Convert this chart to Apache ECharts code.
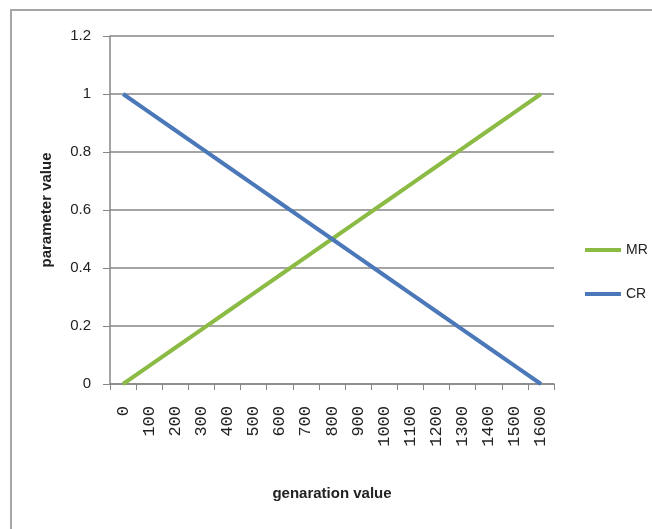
<!DOCTYPE html>
<html><head><meta charset="utf-8">
<script src="https://cdn.jsdelivr.net/npm/echarts@6/dist/echarts.min.js"></script>
<style>html,body{margin:0;padding:0;background:#fff}#c{width:652px;height:529px}</style>
</head><body><div id="c"></div>
<script>
const categories = ['0','100','200','300','400','500','600','700','800','900','1000','1100','1200','1300','1400','1500','1600'];
const mrValues = [0,0.0625,0.125,0.1875,0.25,0.3125,0.375,0.4375,0.5,0.5625,0.625,0.6875,0.75,0.8125,0.875,0.9375,1];
const crValues = [1,0.9375,0.875,0.8125,0.75,0.6875,0.625,0.5625,0.5,0.4375,0.375,0.3125,0.25,0.1875,0.125,0.0625,0];
const yTicks = [0,0.2,0.4,0.6,0.8,1,1.2];

const chart = echarts.init(document.getElementById('c'));
const font = 'Liberation Sans, Arial, sans-serif';
chart.setOption({
  animation:false,
  graphic:[{type:'rect',shape:{x:11,y:10,width:700,height:600},style:{fill:'none',stroke:'#a6a6a6',lineWidth:2},silent:true}],
  grid:{left:110,right:98,top:36,bottom:145},
  legend:{orient:'vertical',left:580,top:238,itemGap:30,itemWidth:36,itemHeight:4,icon:'rect',
    textStyle:{fontFamily:font,fontSize:14,color:'#222'},data:['MR','CR']},
  xAxis:{type:'category',data:categories,boundaryGap:true,
    axisLine:{lineStyle:{color:'#868686',width:1.5}},
    axisTick:{show:true,length:6,alignWithLabel:false,lineStyle:{color:'#868686'}},
    axisLabel:{rotate:90,interval:0,margin:22,fontFamily:'Liberation Mono, DejaVu Sans Mono, monospace',fontSize:17,color:'#222'},
    name:'genaration value',nameLocation:'middle',nameGap:102,
    nameTextStyle:{fontFamily:font,fontSize:15,fontWeight:'bold',color:'#222'}},
  yAxis:{type:'value',min:0,max:1.2,interval:0.2,
    axisLine:{show:true,lineStyle:{color:'#868686',width:1.5}},
    axisTick:{show:true,length:7,lineStyle:{color:'#868686'}},
    splitLine:{lineStyle:{color:'#868686',width:1.5}},
    axisLabel:{margin:19,fontFamily:font,fontSize:15,color:'#222',
      formatter:v=>{const t=yTicks.find(x=>Math.abs(x-v)<1e-9);return String(t!==undefined?t:v);}},
    name:'parameter value',nameLocation:'middle',nameGap:56,
    nameTextStyle:{fontFamily:font,fontSize:15,fontWeight:'bold',color:'#222'}},
  series:[
    {name:'MR',type:'line',data:mrValues,symbol:'none',lineStyle:{color:'#8cbb45',width:4},itemStyle:{color:'#8cbb45'}},
    {name:'CR',type:'line',data:crValues,symbol:'none',lineStyle:{color:'#4a78b8',width:4},itemStyle:{color:'#4a78b8'}}
  ]
});
</script></body></html>
